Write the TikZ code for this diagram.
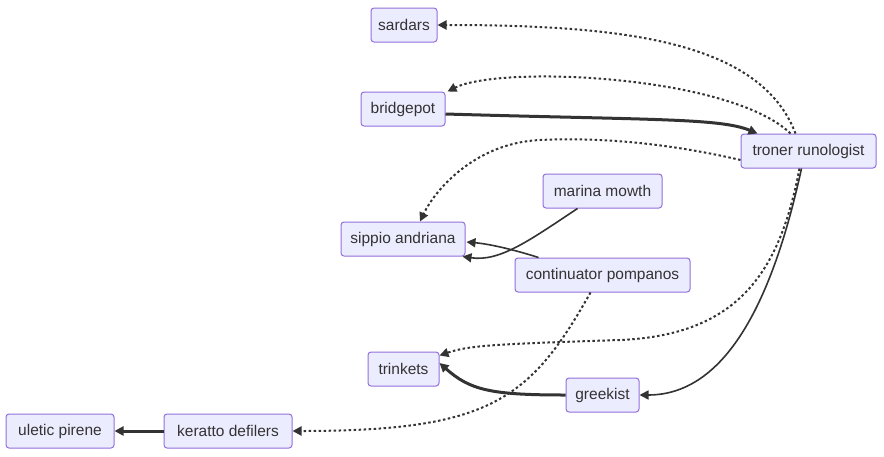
\documentclass[tikz,border=0pt]{standalone}
\usepackage{fontspec}
\setmainfont{Liberation Sans}
\usetikzlibrary{arrows.meta}
\definecolor{nodefill}{HTML}{ECECFF}
\definecolor{nodeline}{HTML}{9370DB}
\definecolor{ink}{HTML}{333333}
\tikzset{
  box/.style={draw=nodeline, fill=nodefill, line width=1pt, rounded corners=3pt,
    minimum height=34pt, inner sep=0pt, text=ink, font=\fontsize{15.5}{18}\selectfont},
  tip/.style={-{Triangle[length=9pt,width=9pt]}},
  plain/.style={tip, draw=ink, line width=1.6pt},
  heavy/.style={tip, draw=ink, line width=3pt},
  dots/.style={tip, draw=ink, line width=2pt, dash pattern=on 2.5pt off 2.5pt},
}
\begin{document}
\begin{tikzpicture}[x=1pt,y=-1pt]
\useasboundingbox (0,0) rectangle (884,456);
\fill[white] (0,0) rectangle (884,456);
\node[box, minimum width=66pt] (sardars) at (404,25) {sardars};
\node[box, minimum width=84pt] (bridgepot) at (403,109) {bridgepot};
\node[box, minimum width=135pt] (troner) at (808.5,151) {troner runologist};
\node[box, minimum width=119pt] (marina) at (602.5,191) {marina mowth};
\node[box, minimum width=124pt] (sippio) at (403,239) {sippio andriana};
\node[box, minimum width=175pt] (contin) at (602.5,275) {continuator pompanos};
\node[box, minimum width=71pt] (trinkets) at (403.5,369) {trinkets};
\node[box, minimum width=73pt] (greekist) at (602.5,395) {greekist};
\node[box, minimum width=128pt] (keratto) at (228,431) {keratto defilers};
\node[box, minimum width=108pt] (uletic) at (60,431) {uletic pirene};

\coordinate (tA) at ([xshift=-13pt]troner.north);
\coordinate (tB) at ([xshift=-18pt]troner.north);
\coordinate (tC) at ([xshift=-9pt]troner.south);
\coordinate (tD) at ([xshift=-7pt]troner.south);
\coordinate (mS) at (540,140);
\coordinate (mT) at (620,340);

\draw[dots] (tA) .. controls (760,40) and (620,25) .. (sardars.east);
\draw[dots] (tB) .. controls (730,75) and (500,65) .. ([xshift=2pt]bridgepot.north east);
\draw[heavy] ([yshift=-5pt]bridgepot.east) .. controls (650,120) and (720,118) .. ([xshift=-51pt]troner.north);
\draw[dots] ([yshift=-9pt]troner.west) .. controls (650,139) and (580,138) .. (mS)
  .. controls (475,143) and (435,190) .. ([xshift=17pt]sippio.north);
\draw[plain] ([xshift=-25pt]marina.south) .. controls (530,240) and (500,262) .. ([xshift=-3pt]sippio.south east);
\draw[plain] ([xshift=-64pt]contin.north) .. controls (515,250) and (490,244) .. ([yshift=-3pt,xshift=1pt]sippio.east);
\draw[dots] ([xshift=-12pt]contin.south) .. controls (530,400) and (490,431) .. (keratto.east);
\draw[dots] (tC) .. controls (780,270) and (740,335) .. (mT)
  .. controls (500,344) and (470,345) .. ([yshift=-4pt]trinkets.north east);
\draw[plain] (tD) .. controls (775,290) and (730,395) .. (greekist.east);
\draw[heavy] (greekist.west) .. controls (490,395) and (470,390) .. ([yshift=6pt]trinkets.east);
\draw[heavy] (keratto.west) -- (uletic.east);
\end{tikzpicture}
\end{document}
